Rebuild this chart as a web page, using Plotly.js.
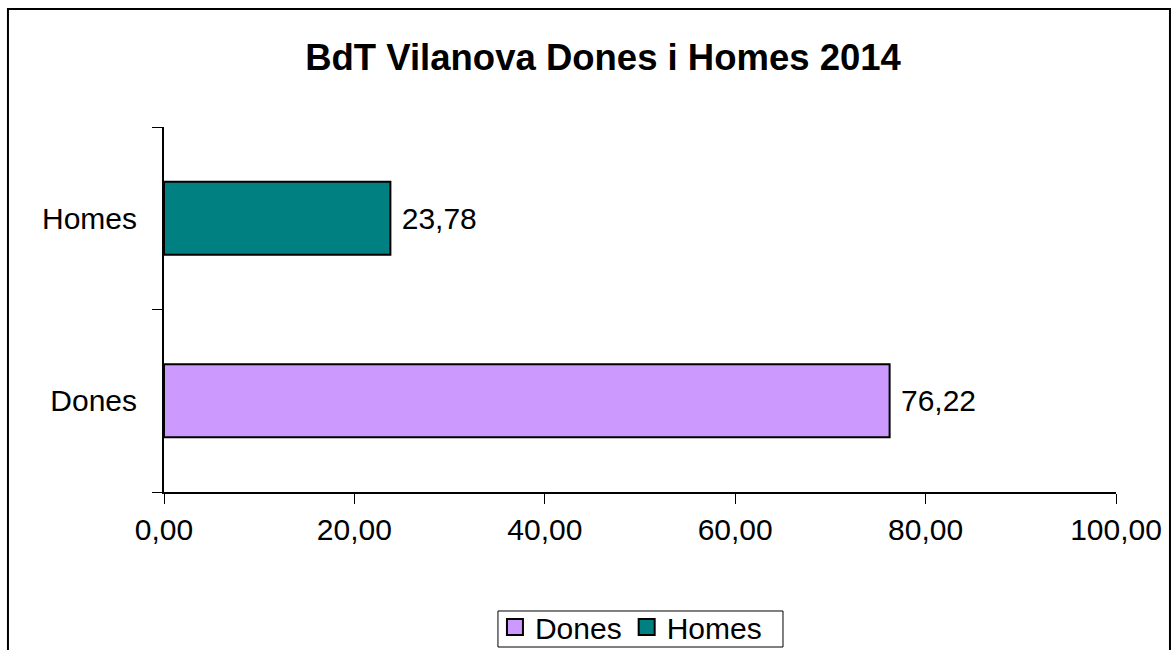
<!DOCTYPE html>
<html>
<head>
<meta charset="utf-8">
<script src="https://cdn.plot.ly/plotly-3.0.1.min.js"></script>
<style>
html,body{margin:0;padding:0;background:#fff;}
#chart{width:1171px;height:650px;}
</style>
</head>
<body>
<div id="chart"></div>
<script>
const categories = ['Dones', 'Homes'];
const doneValues = [76.22, null];
const homeValues = [null, 23.78];
const xTickVals = [0, 20, 40, 60, 80, 100];
const xTickText = ['0,00', '20,00', '40,00', '60,00', '80,00', '100,00'];
const seriesNames = ['Dones', 'Homes'];
const seriesColors = ['#CC99FF', '#008080'];

const fmt = v => v == null ? '' : '\u00a0' + v.toFixed(2).replace('.', ',');
const font = 'Liberation Sans, Arial, sans-serif';

const barTraces = [doneValues, homeValues].map((vals, i) => ({
  type: 'bar',
  orientation: 'h',
  name: seriesNames[i],
  y: categories,
  x: vals,
  text: vals.map(fmt),
  textposition: 'outside',
  textfont: {family: font, size: 30, color: '#000'},
  cliponaxis: false,
  showlegend: false,
  marker: {color: seriesColors[i], line: {color: '#000', width: 2}},
  hoverinfo: 'skip'
}));

const legendTraces = seriesNames.map((n, i) => ({
  type: 'scatter',
  mode: 'markers',
  name: n,
  x: [null],
  y: [null],
  showlegend: true,
  marker: {symbol: 'square', size: 17, color: seriesColors[i], line: {color: '#000', width: 2}},
  hoverinfo: 'skip'
}));

const layout = {
  width: 1171,
  height: 650,
  margin: {l: 164, r: 55, t: 127, b: 158},
  paper_bgcolor: '#fff',
  plot_bgcolor: '#fff',
  font: {family: font, size: 30, color: '#000'},
  title: {
    text: '<b>BdT Vilanova Dones i Homes 2014</b>',
    font: {family: font, size: 36.5, color: '#000'},
    x: 0.515, xanchor: 'center', y: 0.912, yanchor: 'middle'
  },
  barmode: 'overlay',
  bargap: 0.6,
  showlegend: true,
  legend: {
    orientation: 'h',
    x: 0.4905, xanchor: 'center',
    xref: 'paper',
    yref: 'container',
    y: 0.0354, yanchor: 'middle',
    bgcolor: 'rgba(0,0,0,0)',
    borderwidth: 0,
    itemwidth: 30,
    font: {family: font, size: 30, color: '#000'},
    traceorder: 'normal'
  },
  xaxis: {
    range: [0, 100],
    tickvals: xTickVals,
    ticktext: xTickText,
    ticks: 'outside', ticklen: 10, tickwidth: 1, tickcolor: '#000',
    showline: true, linecolor: '#000', linewidth: 2,
    showgrid: false, zeroline: false,
    tickfont: {family: font, size: 30, color: '#000'},
    fixedrange: true
  },
  yaxis: {
    type: 'category',
    categoryorder: 'array',
    categoryarray: categories,
    range: [-0.5, 1.5],
    ticks: 'outside', ticklen: 10, tickwidth: 1, tickcolor: '#000',
    tickson: 'boundaries',
    showline: true, linecolor: '#000', linewidth: 2,
    showgrid: false, zeroline: false,
    ticklabelstandoff: 19,
    tickfont: {family: font, size: 30, color: '#000'},
    fixedrange: true
  },
  shapes: [{
    type: 'rect', xref: 'paper', yref: 'paper',
    x0: -0.1639, x1: 1.0567, y0: -0.45, y1: 1.3233,
    line: {color: '#000', width: 2}, fillcolor: 'rgba(0,0,0,0)', layer: 'below'
  }, {
    type: 'rect', xref: 'paper', yref: 'paper',
    x0: 0.3508, x1: 0.6502, y0: -0.4247, y1: -0.326,
    line: {color: '#000', width: 1}, fillcolor: 'rgba(0,0,0,0)', layer: 'above'
  }]
};

Plotly.newPlot('chart', barTraces.concat(legendTraces), layout, {displayModeBar: false, staticPlot: true});
</script>
</body>
</html>
